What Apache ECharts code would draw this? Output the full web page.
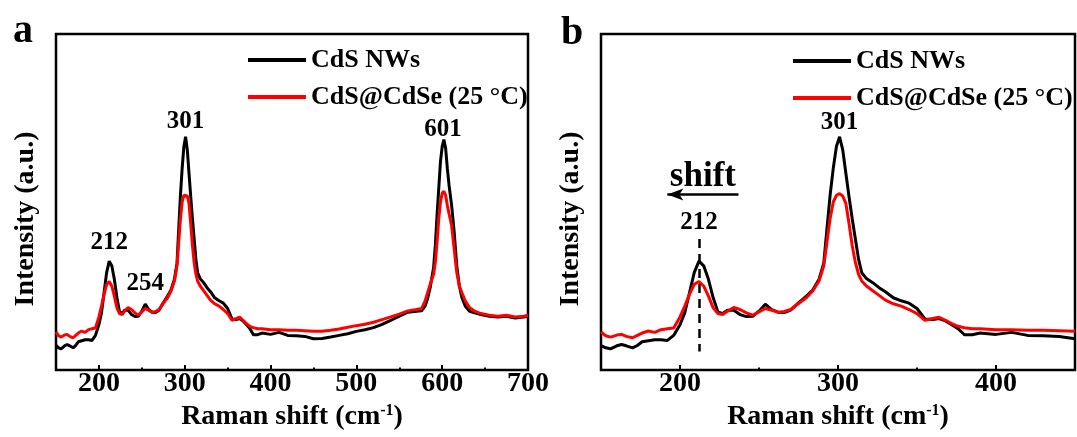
<!DOCTYPE html>
<html>
<head>
<meta charset="utf-8">
<script src="https://cdn.jsdelivr.net/npm/echarts@6/dist/echarts.min.js"></script>
<style>
  html, body { margin: 0; padding: 0; background: #fff; }
  #chart { width: 1077px; height: 437px; }
</style>
</head>
<body>
<div id="chart"></div>
<script>
// Raman shift grid (cm-1), shared by both spectra
const ramanShift = [
  150, 153, 156, 160, 163, 166, 170, 173, 176, 180,
  184, 188, 192, 196, 200, 203, 206, 209, 212, 215,
  218, 221, 224, 227, 230, 234, 238, 242, 246, 250,
  254, 258, 262, 266, 270, 275, 280, 284, 288, 291,
  293, 295, 297, 299, 301, 303, 305, 307, 309, 311,
  313, 315, 318, 322, 326, 330, 335, 340, 345, 350,
  355, 360, 364, 368, 372, 376, 380, 385, 390, 400,
  410, 420, 430, 440, 450, 460, 470, 480, 490, 500,
  510, 520, 530, 540, 550, 560, 570, 576, 580, 583,
  586, 588, 590, 592, 594, 596, 598, 600, 602, 604,
  606, 608, 611, 614, 617, 620, 623, 627, 632, 638,
  645, 655, 665, 675, 685, 695, 700
];

// intensity (a.u.), CdS NWs
const cdsNWs = [
  7.3, 6.6, 6.3, 7.2, 7.6, 7.2, 6.6, 7.3, 8.4, 8.7,
  9.0, 9.0, 8.8, 10.3, 13.5, 17, 23, 29, 32.4, 31,
  27, 21.5, 17.3, 16.8, 17.8, 17.8, 16.5, 15.9, 16, 17.5,
  19.6, 18, 17.2, 17.1, 17.8, 20, 22, 23.8, 27, 31.8,
  42, 52, 60, 66.5, 69.4, 65.5, 58.5, 51.5, 45, 39,
  33, 29, 27.2, 26, 24.5, 23.3, 21.5, 20.6, 19.9, 18.3,
  15.2, 15, 15.3, 14.6, 13.5, 12.3, 10.5, 10.5, 11, 10.6,
  11.2, 10.3, 10.2, 10, 9.3, 9.4, 9.8, 10.3, 10.8, 11.5,
  12, 12.6, 13.6, 14.8, 16, 17.2, 17.5, 17.6, 19, 21.2,
  24.5, 27.5, 30.5, 37, 46, 54, 62, 66.5, 68.6, 66,
  60, 55, 49, 41, 31, 25, 21.5, 19, 17.5, 17,
  16.5, 16, 15.8, 16, 15.5, 15.8, 16
];

// intensity (a.u.), CdS@CdSe (25 °C)
const cdsCdSe = [
  11.3, 10.2, 9.8, 10.4, 10.6, 10.0, 9.6, 10.3, 11, 11.6,
  11.2, 12, 12.3, 12.5, 15.8, 19, 22.5, 25.5, 26.3, 25,
  22, 18.5, 16.8, 16.5, 17.5, 18.6, 18, 17, 16.3, 17.3,
  18.3, 17.8, 17.2, 17.4, 18, 19.8, 21.5, 23.5, 26.5, 31,
  38, 45, 50, 52, 52.5, 51.8, 49.5, 43.5, 37, 32,
  28.5, 26.5, 25, 23.6, 22.2, 20.8, 19.7, 19, 18, 16.8,
  14.8, 15.3, 15.7, 14.8, 13.8, 13, 12.6, 12.3, 12.3, 12,
  12, 11.8, 11.8, 11.7, 11.5, 11.5, 11.8, 12.2, 12.7, 13.2,
  13.6, 14.2, 15, 15.8, 16.6, 17.6, 18, 18.3, 20.5, 23,
  25.5, 27, 28.5, 32, 38, 45, 50, 52.6, 53.2, 52,
  49, 46.5, 43, 36, 29, 25, 23, 20.5, 18.5, 17.5,
  16.8, 16.3, 16, 16.3, 15.8, 16, 16.3
];

const seriesNames = ['CdS NWs', 'CdS@CdSe (25 °C)'];
const peaksA = [212, 254, 301, 601];
const peaksB = [212, 301];
const majorTicksA = [200, 300, 400, 500, 600, 700];
const minorTicksA = [250, 350, 450, 550, 650];
const majorTicksB = [200, 300, 400];
const minorTicksB = [250, 350];

const FONT = '"Liberation Serif", "Times New Roman", serif';

function pairs(ys, xmax) {
  const out = [];
  ramanShift.forEach((x, i) => { if (x <= xmax) out.push([x, ys[i]]); });
  return out;
}

function peakTop(p) {
  let best = 0;
  ramanShift.forEach((x, i) => {
    if (Math.abs(x - p) <= 4 && cdsNWs[i] > best) best = cdsNWs[i];
  });
  return best;
}

function peakMarks(peaks, gaps) {
  return {
    symbol: 'circle',
    symbolSize: 0,
    silent: true,
    label: {
      show: true,
      position: 'top',
      color: '#000',
      fontFamily: FONT,
      fontWeight: 'bold',
      fontSize: 25
    },
    data: peaks.map(p => ({
      coord: [p, peakTop(p)],
      value: p,
      label: { distance: gaps[p] }
    }))
  };
}

function xAxisFor(grid, max, major) {
  return {
    gridIndex: grid,
    type: 'value',
    min: 150,
    max: max,
    interval: 50,
    name: 'Raman shift (cm{sup|-1})',
    nameLocation: 'middle',
    nameGap: 29,
    nameTextStyle: {
      color: '#000',
      fontFamily: FONT,
      fontWeight: 'bold',
      fontSize: 28,
      rich: {
        sup: { fontFamily: FONT, fontWeight: 'bold', fontSize: 16, verticalAlign: 'top', color: '#000' }
      }
    },
    axisLine: { show: false },
    axisTick: { show: true, inside: true, length: 5, customValues: major, lineStyle: { color: '#000', width: 2 } },
    axisLabel: {
      color: '#000',
      fontFamily: FONT,
      fontWeight: 'bold',
      fontSize: 28,
      margin: 0,
      customValues: major
    },
    splitLine: { show: false }
  };
}

// second x axis on the same grid, only for the short ticks at the 50s
function minorAxisFor(grid, max, minor) {
  return {
    gridIndex: grid,
    type: 'value',
    position: 'bottom',
    min: 150,
    max: max,
    interval: 50,
    axisLine: { show: false },
    axisTick: { show: true, inside: true, length: 2.5, customValues: minor, lineStyle: { color: '#000', width: 2 } },
    axisLabel: { show: false },
    splitLine: { show: false }
  };
}

function yAxisFor(grid) {
  return { gridIndex: grid, type: 'value', min: 0, max: 100, show: false };
}

function lineSeries(name, ys, axis, xmax, color) {
  return {
    name: name,
    type: 'line',
    xAxisIndex: axis,
    yAxisIndex: axis,
    data: pairs(ys, xmax),
    showSymbol: false,
    symbol: 'none',
    smooth: false,
    lineStyle: { color: color, width: 3 },
    itemStyle: { color: color },
    silent: true
  };
}

function legendFor(left, top) {
  return {
    orient: 'vertical',
    left: left,
    top: top,
    padding: 0,
    itemWidth: 58,
    itemHeight: 4,
    itemGap: 11,
    icon: 'rect',
    selectedMode: false,
    data: seriesNames,
    textStyle: { color: '#000', fontFamily: FONT, fontWeight: 'bold', fontSize: 26 }
  };
}

const chart = echarts.init(document.getElementById('chart'), null, { renderer: 'canvas' });

const blackA = lineSeries(seriesNames[0], cdsNWs, 0, 700, '#000000');
blackA.markPoint = peakMarks(peaksA, { 212: 6, 254: 8, 301: 3, 601: -3 });
const redA = lineSeries(seriesNames[1], cdsCdSe, 0, 700, '#ff0000');

const blackB = lineSeries(seriesNames[0], cdsNWs, 1, 450, '#000000');
blackB.markPoint = peakMarks(peaksB, { 212: 26, 301: 2 });
// dashed guide through the 212 peak
blackB.markLine = {
  silent: true,
  symbol: 'none',
  animation: false,
  label: { show: false },
  lineStyle: { color: '#000', width: 2.5, type: [9, 6] },
  data: [[{ coord: [212, 39] }, { coord: [212, 5.5] }]]
};
const redB = lineSeries(seriesNames[1], cdsCdSe, 1, 450, '#ff0000');
// shift arrow
redB.markLine = {
  silent: true,
  animation: false,
  symbol: ['none', 'arrow'],
  symbolSize: [9, 16],
  lineStyle: { color: '#000', width: 2.5, type: 'solid' },
  label: {
    show: true,
    position: 'middle',
    formatter: 'shift',
    distance: 0,
    color: '#000',
    fontFamily: FONT,
    fontWeight: 'bold',
    fontSize: 35
  },
  data: [[{ coord: [237, 52.2] }, { coord: [192, 52.2] }]]
};

const option = {
  animation: false,
  backgroundColor: '#ffffff',
  grid: [
    { left: 56, top: 34, width: 472, height: 336, show: true, borderColor: '#000', borderWidth: 2.5 },
    { left: 601, top: 34, width: 474, height: 336, show: true, borderColor: '#000', borderWidth: 2.5 }
  ],
  xAxis: [
    xAxisFor(0, 700, majorTicksA),
    xAxisFor(1, 450, majorTicksB),
    minorAxisFor(0, 700, minorTicksA),
    minorAxisFor(1, 450, minorTicksB)
  ],
  yAxis: [yAxisFor(0), yAxisFor(1)],
  legend: [legendFor(248, 47), legendFor(793, 48)],
  series: [blackA, redA, blackB, redB],
  graphic: [
    { type: 'text', x: 23, y: 32, style: { text: 'a', font: 'bold 40px ' + FONT, fill: '#000', align: 'center', verticalAlign: 'middle' } },
    { type: 'text', x: 572, y: 34, style: { text: 'b', font: 'bold 40px ' + FONT, fill: '#000', align: 'center', verticalAlign: 'middle' } },
    { type: 'text', x: 26, y: 219, rotation: Math.PI / 2, style: { text: 'Intensity (a.u.)', font: 'bold 28px ' + FONT, fill: '#000', align: 'center', verticalAlign: 'middle' } },
    { type: 'text', x: 571, y: 219, rotation: Math.PI / 2, style: { text: 'Intensity (a.u.)', font: 'bold 28px ' + FONT, fill: '#000', align: 'center', verticalAlign: 'middle' } }
  ]
};

chart.setOption(option);
</script>
</body>
</html>
